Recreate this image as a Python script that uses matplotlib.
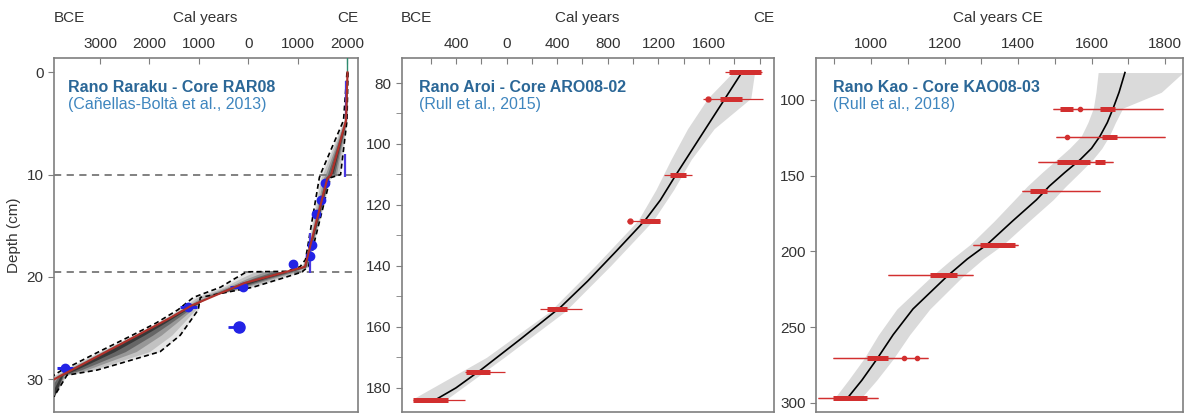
import numpy as np
from matplotlib import pyplot as plt
from matplotlib.ticker import FixedLocator, FuncFormatter

plt.rcParams['font.family'] = ['Liberation Sans', 'DejaVu Sans']
plt.rcParams['font.size'] = 11

# ---- Rano Raraku (RAR08) ----
rar_med_depth = [0, 4.7, 10, 10.4, 19.0, 19.3, 20.6, 22.8, 24.0, 25.2, 30.0]
rar_med_year = [2010, 1980, 1680, 1600, 1150, 920, -80, -1150, -1580, -2047, -3930]
rar_band_depth = [0, 4.7, 10, 10.3, 18.3, 19.0, 19.45, 19.5, 20.1, 21, 22, 23.2, 24.5, 25.7, 27.3, 28.6, 29.1, 29.6, 31.7]
rar_old = [2000, 1930, 1460, 1440, 1160, 1050, 780, -30, -250, -560, -1110, -1420, -1864, -2350, -3020, -3550, -3770, -3933, -4500]
rar_young = [2020, 2000, 1870, 1665, 1250, 1220, 1100, 1100, 710, 100, -970, -1012, -1200, -1377, -1783, -2700, -3060, -3670, -3933]
rar_date_year = [1560, 1480, 1380, 1290, 1260, 915, -100, -1215, -3710]
rar_date_depth = [10.8, 12.5, 13.8, 16.9, 18.0, 18.7, 21.0, 22.9, 28.9]
rar_date_xerr_lo = [80, 40, 40, 40, 60, 60, 260, 170, 170]
rar_date_xerr_hi = [80, 40, 40, 40, 60, 80, 60, 170, 170]
rar_date_yerr = [0.4, 0.3, 0.3, 0.5, 0.3, 0.4, 0.3, 0.3, 0.3]
rar_bar_year = [1985, 1965, 1255]
rar_bar_top = [0.8, 8.0, 15.7]
rar_bar_bottom = [4.7, 10.2, 19.6]
rar_outlier_year = [-180]
rar_outlier_depth = [24.9]
rar_outlier_xerr = [220]
rar_hlines = [10, 19.5]

# ---- Rano Aroi (ARO08-02) ----
aro_med_depth = [76.4, 90, 100, 110, 118.4, 125, 135, 145, 153.4, 164, 174, 180, 183.6]
aro_med_year = [1861, 1650, 1495, 1340, 1215, 1095, 870, 640, 430, 110, -200, -400, -550]
aro_band_depth = [76.4, 85, 95, 105, 115, 125, 140, 155, 170, 183.6]
aro_band_lo = [1790, 1590, 1430, 1300, 1180, 1040, 700, 340, -160, -740]
aro_band_hi = [1960, 1930, 1640, 1460, 1320, 1160, 820, 460, -20, -470]
aro_depth = [76.4, 85.2, 110.2, 125.2, 154, 174.8, 184]
aro_lo = [1726, 1553, 1244, 952, 264, -330, -740]
aro_hi = [2020, 2027, 1466, 1213, 596, -13, -330]
aro_thick_lo = [1760, 1687, 1290, 1055, 320, -320, -740]
aro_thick_hi = [2010, 1861, 1420, 1213, 477, -131, -463]
aro_dot_year = [1593, 975]
aro_dot_depth = [85.2, 125.2]

# ---- Rano Kao (KAO08-03) ----
kao_med_depth = [82, 95, 105.5, 115, 124, 132, 139.5, 148, 157, 166, 180, 195.4, 205, 216.4, 238, 255, 271, 285, 297]
kao_med_year = [1691, 1675, 1659, 1643, 1623, 1600, 1569, 1527, 1485, 1450, 1385, 1316, 1262, 1207, 1114, 1060, 1016, 975, 935]
kao_band_lo = [1618, 1612, 1605, 1590, 1572, 1540, 1505, 1465, 1425, 1390, 1335, 1270, 1220, 1165, 1070, 1020, 980, 938, 900]
kao_band_hi = [1849, 1790, 1685, 1665, 1648, 1628, 1603, 1568, 1530, 1495, 1430, 1360, 1305, 1250, 1160, 1105, 1060, 1015, 972]
kao_depth = [105.9, 124.4, 140.8, 159.9, 196, 215.8, 270.4, 296.7]
kao_lo = [1495, 1503, 1454, 1411, 1278, 1046, 897, 856]
kao_hi = [1795, 1800, 1659, 1623, 1400, 1278, 1155, 1019]
kao_thick_lo = [1623, 1629, 1506, 1433, 1297, 1161, 989, 897]
kao_thick_hi = [1664, 1670, 1596, 1479, 1392, 1234, 1046, 989]
kao_thick2_lo = [1514, np.nan, 1610, np.nan, np.nan, np.nan, np.nan, np.nan]
kao_thick2_hi = [1550, np.nan, 1637, np.nan, np.nan, np.nan, np.nan, np.nan]
kao_dot_year = [1569, 1533, 1090, 1126]
kao_dot_depth = [105.9, 124.4, 270.4, 270.4]

W, H = 1197, 416
title_col = '#2b6797'
sub_col = '#3f86bf'
red = '#d22f2f'
spine_col = '#7f7f7f'
text_col = '#333333'


def px_axes(fig, left, top, right, bottom):
    return fig.add_axes([left / W, 1 - bottom / H, (right - left) / W, (bottom - top) / H])


def style(ax):
    for s in ax.spines.values():
        s.set_color(spine_col)
        s.set_linewidth(1.2)
    ax.xaxis.tick_top()
    ax.tick_params(axis='x', direction='in', length=4, color=spine_col, labelcolor=text_col, pad=5)
    ax.tick_params(axis='y', direction='out', length=4, color=spine_col, labelcolor=text_col)
    ax.tick_params(which='minor', length=4, color=spine_col)


def draw_dates(ax, depth, lo, hi, tlo, thi):
    for d, a, b, c, e in zip(depth, lo, hi, tlo, thi):
        ax.plot([a, b], [d, d], color=red, lw=0.9, solid_capstyle='butt', zorder=4)
        if not np.isnan(c):
            ax.plot([c, e], [d, d], color=red, lw=3.6, solid_capstyle='butt', zorder=5)


def label(ax, title, sub):
    ax.text(0.047, 0.905, title, transform=ax.transAxes, color=title_col, fontweight='bold', fontsize=11.5)
    ax.text(0.047, 0.855, sub, transform=ax.transAxes, color=sub_col, fontsize=11.5)


fig = plt.figure(figsize=(W / 100, H / 100), dpi=100)

# panel 1
ax1 = px_axes(fig, 54, 58, 358, 412)
style(ax1)
bd = np.array(rar_band_depth)
med = np.interp(bd, rar_med_depth, rar_med_year)
old = np.array(rar_old)
young = np.array(rar_young)
for f, a in [(1.0, 0.1), (0.8, 0.15), (0.55, 0.22), (0.35, 0.32), (0.15, 0.45)]:
    ax1.fill_betweenx(bd, med - f * (med - old), med + f * (young - med), color='black', alpha=a, lw=0)
ax1.plot(rar_old, rar_band_depth, color='black', ls=(0, (3, 2)), lw=1.2, zorder=3)
ax1.plot(rar_young, rar_band_depth, color='black', ls=(0, (3, 2)), lw=1.2, zorder=3)
for h in rar_hlines:
    ax1.axhline(h, color='#777777', ls=(0, (4, 3)), lw=1.3, zorder=2)
ax1.errorbar(rar_date_year, rar_date_depth, xerr=[rar_date_xerr_lo, rar_date_xerr_hi], yerr=rar_date_yerr,
             fmt='o', color='#2323e6', ms=6, elinewidth=2.2, capsize=0, zorder=4)
ax1.vlines(rar_bar_year, rar_bar_top, rar_bar_bottom, color='#4a3ae0', lw=1.6, zorder=4)
ax1.errorbar(rar_outlier_year, rar_outlier_depth, xerr=[rar_outlier_xerr, [0]], fmt='o', color='#2323e6',
             ms=8, elinewidth=2, capsize=0, zorder=4)
ax1.plot([2010, 2010], [-2, 0], color='#2e8b6f', lw=1, zorder=3)
ax1.plot(rar_med_year, rar_med_depth, color='#b0302a', lw=1.5, zorder=6)
ax1.set_xlim(-3933, 2223)
ax1.set_ylim(33.2, -1.4)
ax1.xaxis.set_major_locator(FixedLocator([-3000, -2000, -1000, 0, 1000, 2000]))
ax1.xaxis.set_major_formatter(FuncFormatter(lambda v, p: f'{abs(int(v))}'))
ax1.set_yticks([0, 10, 20, 30])
ax1.set_ylabel('Depth (cm)', color=text_col, labelpad=4)
label(ax1, 'Rano Raraku - Core RAR08', '(Cañellas-Boltà et al., 2013)')

# panel 2
ax2 = px_axes(fig, 402, 58, 774, 412)
style(ax2)
ax2.fill_betweenx(aro_band_depth, aro_band_lo, aro_band_hi, color='#dadada', lw=0, zorder=1)
ax2.plot(aro_med_year, aro_med_depth, color='black', lw=1.2, zorder=3)
draw_dates(ax2, aro_depth, aro_lo, aro_hi, aro_thick_lo, aro_thick_hi)
ax2.plot(aro_dot_year, aro_dot_depth, 'o', color=red, ms=3.5, zorder=5)
ax2.set_xlim(-826, 2113)
ax2.set_ylim(187.9, 71.8)
ax2.xaxis.set_major_locator(FixedLocator(list(range(-600, 2001, 200))))
ax2.xaxis.set_major_formatter(FuncFormatter(lambda v, p: f'{abs(int(v))}' if v % 400 == 0 and v < 2000 else ''))
ax2.set_yticks([80, 100, 120, 140, 160, 180])
ax2.yaxis.set_minor_locator(FixedLocator([90, 110, 130, 150, 170]))
label(ax2, 'Rano Aroi - Core ARO08-02', '(Rull et al., 2015)')

# panel 3
ax3 = px_axes(fig, 816, 58, 1183, 412)
style(ax3)
ax3.fill_betweenx(kao_med_depth, kao_band_lo, kao_band_hi, color='#dadada', lw=0, zorder=1)
ax3.plot(kao_med_year, kao_med_depth, color='black', lw=1.2, zorder=3)
draw_dates(ax3, kao_depth, kao_lo, kao_hi, kao_thick_lo, kao_thick_hi)
draw_dates(ax3, kao_depth, kao_lo, kao_hi, kao_thick2_lo, kao_thick2_hi)
ax3.plot(kao_dot_year, kao_dot_depth, 'o', color=red, ms=3, zorder=5)
ax3.set_xlim(850, 1849)
ax3.set_ylim(306, 72.4)
ax3.xaxis.set_major_locator(FixedLocator(list(range(900, 1801, 100))))
ax3.xaxis.set_major_formatter(FuncFormatter(lambda v, p: f'{int(v)}' if v % 200 == 0 else ''))
ax3.set_yticks([100, 150, 200, 250, 300])
label(ax3, 'Rano Kao - Core KAO08-03', '(Rull et al., 2018)')

# header texts
ty = 1 - 18 / H
fig.text(54 / W, ty, 'BCE', ha='left', va='center', color=text_col)
fig.text(205 / W, ty, 'Cal years', ha='center', va='center', color=text_col)
fig.text(358 / W, ty, 'CE', ha='right', va='center', color=text_col)
fig.text(401 / W, ty, 'BCE', ha='left', va='center', color=text_col)
fig.text(587 / W, ty, 'Cal years', ha='center', va='center', color=text_col)
fig.text(774 / W, ty, 'CE', ha='right', va='center', color=text_col)
fig.text(998 / W, ty, 'Cal years CE', ha='center', va='center', color=text_col)

fig.savefig('out.png', dpi=100)
